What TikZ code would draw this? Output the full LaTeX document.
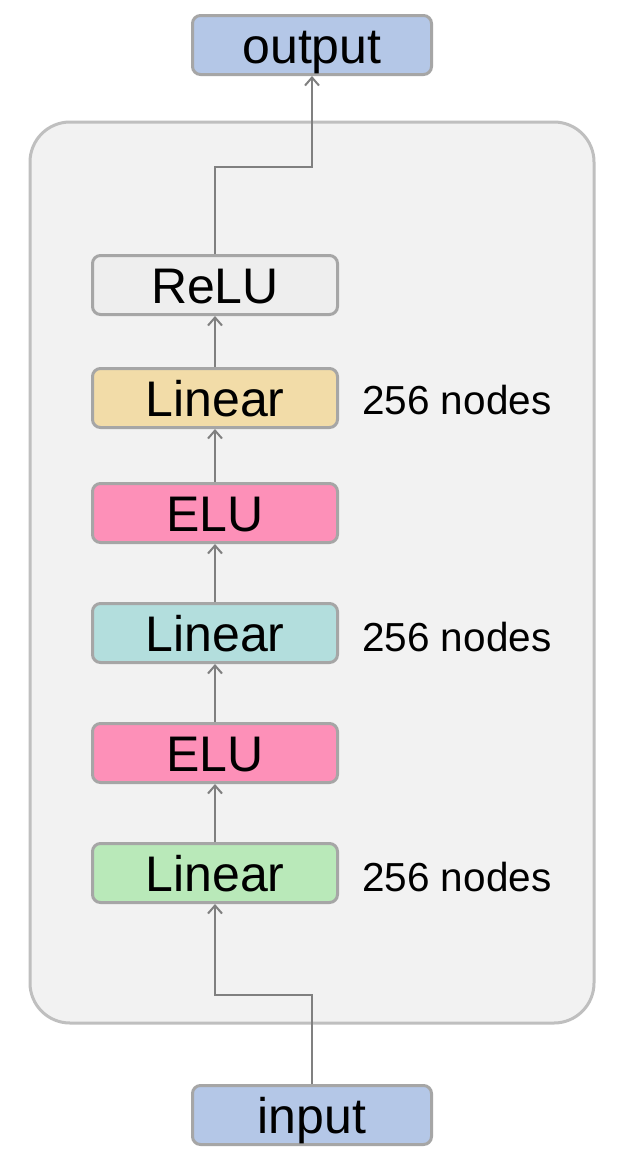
\documentclass[tikz,border=0pt]{standalone}
\usepackage{fontspec}
\setmainfont{Liberation Sans}
\usetikzlibrary{arrows.meta}
\definecolor{ioblue}{HTML}{B4C7E7}
\definecolor{relugray}{HTML}{EEEEEE}
\definecolor{lintan}{HTML}{F2DCA8}
\definecolor{elupink}{HTML}{FD90B8}
\definecolor{linteal}{HTML}{B3DEDD}
\definecolor{lingreen}{HTML}{B9E9B9}
\definecolor{boxborder}{HTML}{A6A6A6}
\definecolor{contfill}{HTML}{F2F2F2}
\definecolor{contborder}{HTML}{BFBFBF}
\definecolor{arrowgray}{HTML}{808080}
\tikzset{
  layer/.style={draw=boxborder, line width=3pt, rounded corners=8pt,
    minimum width=245pt, minimum height=59pt, inner sep=0pt,
    text height=37pt, text depth=0pt,
    font=\fontsize{50}{54}\selectfont},
  iobox/.style={layer, fill=ioblue, minimum width=239pt},
  note/.style={font=\fontsize{40.5}{44}\selectfont, anchor=west, inner sep=0pt,
    text height=29pt, text depth=0pt},
  conn/.style={draw=arrowgray, line width=2pt, -{Straight Barb[length=8pt,width=14pt,line width=2pt]}}
}
\begin{document}
\begin{tikzpicture}[x=1pt,y=-1pt]
\useasboundingbox (0,0) rectangle (625,1160);
\fill[white] (0,0) rectangle (625,1160);
\draw[draw=contborder, fill=contfill, line width=3pt, rounded corners=40pt] (30,122) rectangle (594,1023);
\node[iobox] (out) at (312,45) {output};
\node[iobox] (in) at (312,1115) {input};
\node[layer, fill=relugray] (relu) at (215,285) {ReLU};
\node[layer, fill=lintan] (lin3) at (215,398) {Linear};
\node[layer, fill=elupink] (elu2) at (215,513) {ELU};
\node[layer, fill=linteal] (lin2) at (215,633) {Linear};
\node[layer, fill=elupink] (elu1) at (215,753) {ELU};
\node[layer, fill=lingreen] (lin1) at (215,873) {Linear};
\node[note] (n3) at (362,400) {256 nodes};
\node[note] (n2) at (362,637) {256 nodes};
\node[note] (n1) at (362,877) {256 nodes};
\draw[conn] (in.north) -- ++(0,-89) -| (lin1.south);
\draw[conn] (lin1) -- (elu1);
\draw[conn] (elu1) -- (lin2);
\draw[conn] (lin2) -- (elu2);
\draw[conn] (elu2) -- (lin3);
\draw[conn] (lin3) -- (relu);
\draw[conn] (relu.north) -- ++(0,-87) -| (out.south);
\end{tikzpicture}
\end{document}
